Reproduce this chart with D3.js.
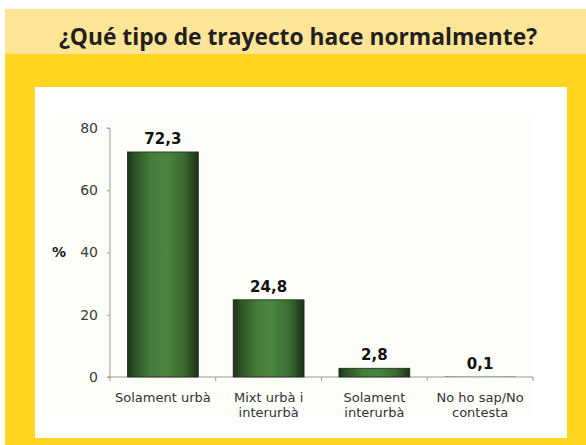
<!DOCTYPE html>
<html><head><meta charset="utf-8">
<script src="https://cdn.jsdelivr.net/npm/d3@7"></script>
<style>html,body{margin:0;padding:0;background:#fff;}svg{display:block;}</style>
</head><body>
<svg id="c" width="586" height="445"></svg>
<script>
const title = "¿Qué tipo de trayecto hace normalmente?";
const categories = [["Solament urbà"], ["Mixt urbà i", "interurbà"], ["Solament", "interurbà"], ["No ho sap/No", "contesta"]];
const values = [72.3, 24.8, 2.8, 0.1];
const valueLabels = ["72,3", "24,8", "2,8", "0,1"];
const yTicks = [0, 20, 40, 60, 80];
const yLabel = "%";

const svg = d3.select("#c");
svg.append("rect").attr("x",0).attr("y",0).attr("width",586).attr("height",445).attr("fill","#fff");
svg.append("rect").attr("x",5).attr("y",9).attr("width",581).attr("height",45).attr("fill","#fde597");
svg.append("rect").attr("x",5).attr("y",54).attr("width",581).attr("height",391).attr("fill","#fed51f");
svg.append("rect").attr("x",35).attr("y",87).attr("width",532).attr("height",351).attr("fill","#fff");
svg.append("rect").attr("x",52).attr("y",117).attr("width",482).attr("height",300).attr("fill","#fdfdf9");

svg.append("text").attr("x",298).attr("y",45).attr("text-anchor","middle")
  .attr("font-family","'Open Sans', sans-serif").attr("font-weight","bold").attr("font-size",22.8)
  .attr("fill","#231f20").text(title);

const x0 = 110, x1 = 533, yTop = 128, yBot = 377;
const x = d3.scaleBand().domain(d3.range(categories.length)).range([x0, x1]).paddingInner(0.33).paddingOuter(0.165);
const y = d3.scaleLinear().domain([0, 80]).range([yBot, yTop]);

const defs = svg.append("defs");
const g = defs.append("linearGradient").attr("id","bg").attr("x1","0").attr("x2","1").attr("y1","0").attr("y2","0");
[[0,"#1b3317"],[0.12,"#2e5727"],[0.35,"#467f3b"],[0.55,"#4a8540"],[0.8,"#3a6b31"],[0.95,"#243f1f"],[1,"#1b3016"]]
  .forEach(([o,c])=>g.append("stop").attr("offset",o).attr("stop-color",c));

// axes
const yAxis = d3.axisLeft(y).tickValues(yTicks).tickSize(3).tickPadding(9);
const ya = svg.append("g").attr("transform",`translate(${x0},0)`).call(yAxis);
ya.select(".domain").attr("stroke","#9a9a9a").attr("d",`M-3,${yTop}H0V${yBot}`);
ya.selectAll(".tick line").attr("stroke","#9a9a9a");
ya.selectAll(".tick text").attr("font-family","'DejaVu Sans', Verdana, sans-serif").attr("font-size",14).attr("fill","#3a3a3a");

const xa = svg.append("g").attr("transform",`translate(0,${yBot})`);
xa.append("line").attr("x1",x0-3).attr("x2",x1).attr("y1",0).attr("y2",0).attr("stroke","#9a9a9a");
const bounds = d3.range(categories.length+1).map(i => x0 + i*x.step());
xa.selectAll("line.t").data(bounds).join("line").attr("class","t")
  .attr("x1",d=>d).attr("x2",d=>d).attr("y1",0).attr("y2",4).attr("stroke","#9a9a9a");

svg.append("text").attr("x",52).attr("y",257).attr("font-family","'DejaVu Sans', Verdana, sans-serif")
  .attr("font-weight","bold").attr("font-size",14).attr("fill","#1a1a1a").text(yLabel);

// bars
svg.selectAll("rect.bar").data(values).join("rect").attr("class","bar")
  .attr("x",(d,i)=>x(i)).attr("width",x.bandwidth())
  .attr("y",d=>y(d)).attr("height",d=>yBot-y(d))
  .attr("fill","url(#bg)")
  .attr("stroke",d=>(yBot-y(d))>2?"#1a2c16":"none").attr("stroke-width",0.8);

svg.selectAll("text.val").data(values).join("text").attr("class","val")
  .attr("x",(d,i)=>x(i)+x.bandwidth()/2).attr("y",d=>y(d)-8)
  .attr("text-anchor","middle").attr("font-family","'DejaVu Sans', Verdana, sans-serif")
  .attr("font-weight","bold").attr("font-size",15).attr("fill","#111")
  .text((d,i)=>valueLabels[i]);

const cl = svg.selectAll("text.cat").data(categories).join("text").attr("class","cat")
  .attr("text-anchor","middle").attr("font-family","'DejaVu Sans', Verdana, sans-serif")
  .attr("font-size",13).attr("fill","#333");
cl.each(function(lines,i){
  d3.select(this).selectAll("tspan").data(lines).join("tspan")
    .attr("x",x(i)+x.bandwidth()/2).attr("y",(l,j)=>402+j*15).text(l=>l);
});
</script>
</body></html>
